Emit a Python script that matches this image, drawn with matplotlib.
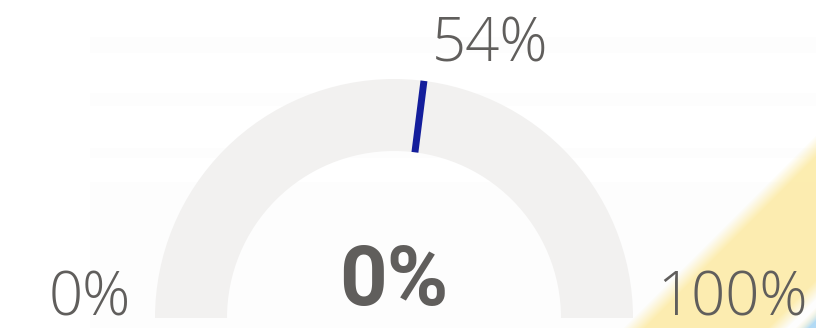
import numpy as np
import matplotlib.pyplot as plt
from matplotlib.patches import Wedge, Rectangle

# gauge values
GAUGE_MIN = 0
GAUGE_MAX = 100
GAUGE_VALUE = 0
GAUGE_TARGET = 54

# faint background stripes (top, bottom in pixel rows)
STRIPES = [(37, 53), (93, 106), (148, 158), (182, 328)]

W, H = 816, 328
TEXT_COLOR = '#605E5C'
ARC_COLOR = '#F2F1F0'
TARGET_COLOR = '#141E9C'

CX, CY = 394, 10          # gauge centre (pixels from bottom-left)
R_OUT, R_IN = 239, 167


def frac_to_angle(v):
    return 180.0 * (1 - (v - GAUGE_MIN) / (GAUGE_MAX - GAUGE_MIN))


fig = plt.figure(figsize=(W / 100, H / 100), dpi=100)
ax = fig.add_axes([0, 0, 1, 1])
ax.set_xlim(0, W)
ax.set_ylim(0, H)
ax.set_aspect('equal')
ax.axis('off')

# background stripes, barely visible
for top, bot in STRIPES:
    ax.add_patch(Rectangle((90, H - bot), W - 90, bot - top,
                           color='#FDFDFD', lw=0, zorder=0))

# diagonal yellow wash in the lower right corner
yy, xx = np.mgrid[0:H, 0:W]
s = xx + yy
rgba = np.zeros((H, W, 4))
yellow = np.clip((s - 950) / 22, 0, 1) * np.clip((1115 - s) / 20, 0, 1)
blue = np.clip((s - 1122) / 14, 0, 1)
rgba[..., :3] = np.array([252, 236, 172]) / 255
rgba[..., 3] = yellow * 0.95
blue_rgb = np.array([170, 215, 245]) / 255
rgba[..., :3] = rgba[..., :3] * (1 - blue[..., None]) + blue_rgb * blue[..., None]
rgba[..., 3] = np.maximum(rgba[..., 3], blue * 0.9)
ax.imshow(rgba, extent=(0, W, 0, H), origin='upper', zorder=1,
          interpolation='bilinear')

# gauge track
ax.add_patch(Wedge((CX, CY), R_OUT, 0, 180, width=R_OUT - R_IN,
                   color=ARC_COLOR, lw=0, zorder=2))

# value fill
if GAUGE_VALUE > GAUGE_MIN:
    ax.add_patch(Wedge((CX, CY), R_OUT, frac_to_angle(GAUGE_VALUE), 180,
                       width=R_OUT - R_IN, color='#118DFF', lw=0, zorder=3))

# target marker
a = np.radians(frac_to_angle(GAUGE_TARGET))
ax.plot([CX + R_IN * np.cos(a), CX + R_OUT * np.cos(a)],
        [CY + R_IN * np.sin(a), CY + R_OUT * np.sin(a)],
        color=TARGET_COLOR, lw=5, solid_capstyle='butt', zorder=4)

light = dict(family=['Open Sans', 'DejaVu Sans'], fontweight='light',
             fontsize=43, color=TEXT_COLOR, ha='center', va='baseline', zorder=5)
ax.text(90, 13, f'{GAUGE_MIN}%', **light)
ax.text(732, 13, f'{GAUGE_MAX}%', **light)
ax.text(490, 267, f'{GAUGE_TARGET}%', **light)

ax.text(CX, 23, f'{GAUGE_VALUE}%', family=['Roboto', 'DejaVu Sans'],
        fontweight='bold', fontsize=60, color=TEXT_COLOR,
        ha='center', va='baseline', zorder=5)

fig.savefig('out.png', dpi=100)
